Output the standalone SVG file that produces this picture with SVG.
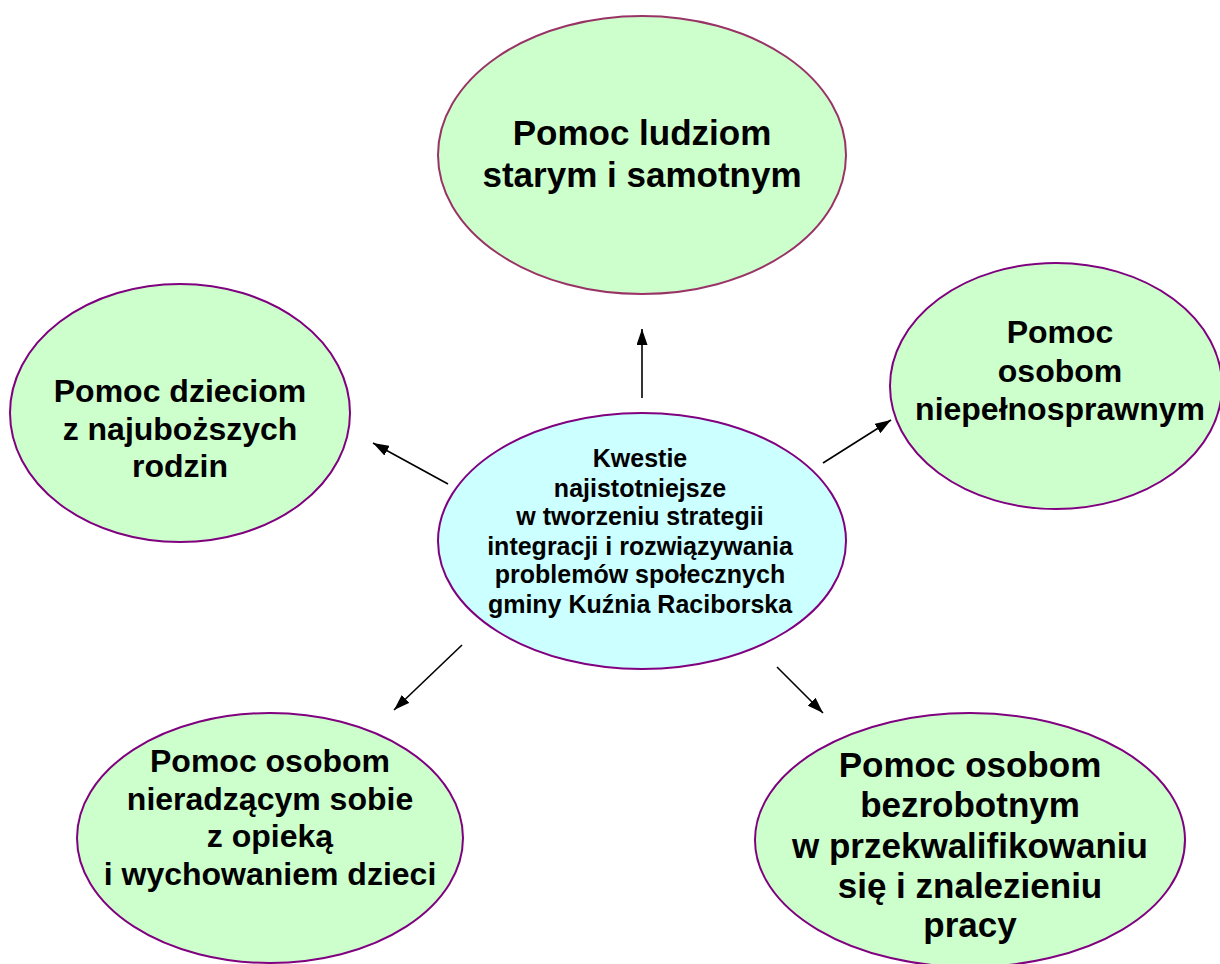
<svg xmlns="http://www.w3.org/2000/svg" width="1220" height="964" viewBox="0 0 1220 964">
<defs>
<style>
.n{fill:#CCFFCC;stroke:#800080;stroke-width:2}
.c{fill:#CCFFFF;stroke:#800080;stroke-width:2}
.t{font-family:"Liberation Sans",Arial,sans-serif;font-weight:bold;fill:#000;text-anchor:middle}
.e{stroke:#000;stroke-width:1.6;fill:none;marker-end:url(#ah)}
</style>
<marker id="ah" viewBox="0 0 10 10" refX="10" refY="5" markerWidth="16" markerHeight="11" markerUnits="userSpaceOnUse" orient="auto" preserveAspectRatio="none">
<path d="M0,0 L10,5 L0,10 z" fill="#000"/>
</marker>
</defs>
<rect width="1220" height="964" fill="#fff"/>
<g id="connectors">
<line class="e" x1="642" y1="398" x2="642" y2="329"/>
<line class="e" x1="448" y1="484" x2="373" y2="443"/>
<line class="e" x1="823" y1="463" x2="891" y2="420"/>
<line class="e" x1="462" y1="645" x2="394" y2="710"/>
<line class="e" x1="777" y1="667" x2="823" y2="713"/>
</g>
<g id="node-top">
<ellipse cx="642" cy="155" rx="204" ry="139" fill="#CCFFCC" stroke="#993366" stroke-width="2"/>
<text class="t" font-size="35" x="642" y="145">Pomoc ludziom</text>
<text class="t" font-size="35" x="642" y="187">starym i samotnym</text>
</g>
<g id="node-left">
<ellipse class="n" cx="180" cy="413" rx="170" ry="129"/>
<text class="t" font-size="32" x="180" y="402">Pomoc dzieciom</text>
<text class="t" font-size="32" x="180" y="440">z najuboższych</text>
<text class="t" font-size="32" x="180" y="477">rodzin</text>
</g>
<g id="node-right">
<ellipse class="n" cx="1056" cy="386" rx="166" ry="123"/>
<text class="t" font-size="32" x="1060" y="343">Pomoc</text>
<text class="t" font-size="32" x="1060" y="382">osobom</text>
<text class="t" font-size="32" x="1060" y="420">niepełnosprawnym</text>
</g>
<g id="node-center">
<ellipse class="c" cx="642" cy="541" rx="204" ry="128"/>
<text class="t" font-size="25" x="640" y="467">Kwestie</text>
<text class="t" font-size="25" x="640" y="497">najistotniejsze</text>
<text class="t" font-size="25" x="640" y="525">w tworzeniu strategii</text>
<text class="t" font-size="25" x="640" y="555">integracji i rozwiązywania</text>
<text class="t" font-size="25" x="640" y="583">problemów społecznych</text>
<text class="t" font-size="25" x="640" y="613">gminy Kuźnia Raciborska</text>
</g>
<g id="node-bottom-left">
<ellipse class="n" cx="270" cy="838" rx="193" ry="125"/>
<text class="t" font-size="32" x="270" y="772">Pomoc osobom</text>
<text class="t" font-size="32" x="270" y="810">nieradzącym sobie</text>
<text class="t" font-size="32" x="270" y="847">z opieką</text>
<text class="t" font-size="32" x="270" y="885">i wychowaniem dzieci</text>
</g>
<g id="node-bottom-right">
<ellipse class="n" cx="970" cy="840" rx="215" ry="127"/>
<text class="t" font-size="35" x="970" y="777">Pomoc osobom</text>
<text class="t" font-size="35" x="970" y="817">bezrobotnym</text>
<text class="t" font-size="35" x="970" y="858">w przekwalifikowaniu</text>
<text class="t" font-size="35" x="970" y="898">się i znalezieniu</text>
<text class="t" font-size="35" x="970" y="937">pracy</text>
</g>
</svg>
